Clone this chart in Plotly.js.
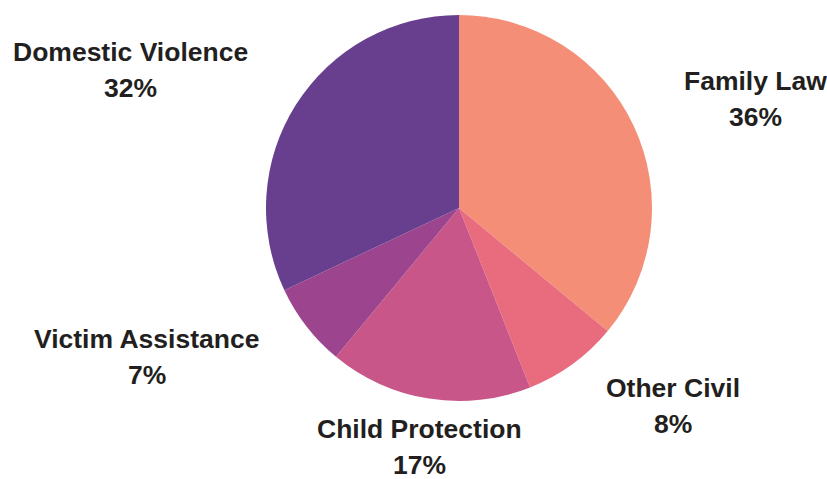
<!DOCTYPE html>
<html>
<head>
<meta charset="utf-8">
<script src="https://cdn.plot.ly/plotly-3.0.1.min.js"></script>
<style>
  html, body { margin: 0; padding: 0; background: #ffffff; }
  #chart { width: 827px; height: 479px; }
</style>
</head>
<body>
<div id="chart"></div>
<script>
// Share of cases by category (percent), listed clockwise from 12 o'clock
const categories = ['Family Law', 'Other Civil', 'Child Protection', 'Victim Assistance', 'Domestic Violence'];
const shares = [36, 8, 17, 7, 32];
const sliceColors = ['#F58E76', '#E86C7E', '#C95689', '#9C448E', '#683E8E'];

// Canvas and pie geometry (pixels)
const W = 827, H = 479;
const CX = 459, CY = 208, R = 193;
// Offset of each label block centre from the rim point at its slice's mid-angle
const labelShift = [[122, -27], [101, 42], [-9, 48], [-160, 31], [-166, -35]];
const LINE_GAP = 36;

const trace = {
  type: 'pie',
  labels: categories,
  values: shares,
  sort: false,
  direction: 'clockwise',
  rotation: 0,
  marker: { colors: sliceColors, line: { width: 0 } },
  textinfo: 'none',
  hoverinfo: 'label+percent',
  showlegend: false,
  domain: {
    x: [(CX - R) / W, (CX + R) / W],
    y: [1 - (CY + R) / H, 1 - (CY - R) / H]
  }
};

// Place each two-line label next to the rim point at the middle of its slice
const total = shares.reduce((a, b) => a + b, 0);
const labelFont = { family: 'Liberation Sans, Arial, sans-serif', size: 26.5, color: '#231F20' };
const annotations = [];
let cum = 0;
shares.forEach((v, i) => {
  const theta = 2 * Math.PI * (cum + v / 2) / total;
  cum += v;
  const px = CX + R * Math.sin(theta);
  const py = CY - R * Math.cos(theta);
  const [dx, dy] = labelShift[i];
  const base = { x: px / W, y: 1 - py / H, xref: 'paper', yref: 'paper',
                 xanchor: 'center', yanchor: 'middle', showarrow: false,
                 font: labelFont, xshift: dx };
  annotations.push(Object.assign({}, base, { text: '<b>' + categories[i] + '</b>', yshift: -(dy - LINE_GAP / 2) }));
  annotations.push(Object.assign({}, base, { text: '<b>' + Math.round(100 * v / total) + '%</b>', yshift: -(dy + LINE_GAP / 2) }));
});

const layout = {
  width: W,
  height: H,
  margin: { l: 0, r: 0, t: 0, b: 0 },
  paper_bgcolor: '#ffffff',
  showlegend: false,
  annotations: annotations
};

Plotly.newPlot('chart', [trace], layout, { displayModeBar: false, staticPlot: true });
</script>
</body>
</html>
